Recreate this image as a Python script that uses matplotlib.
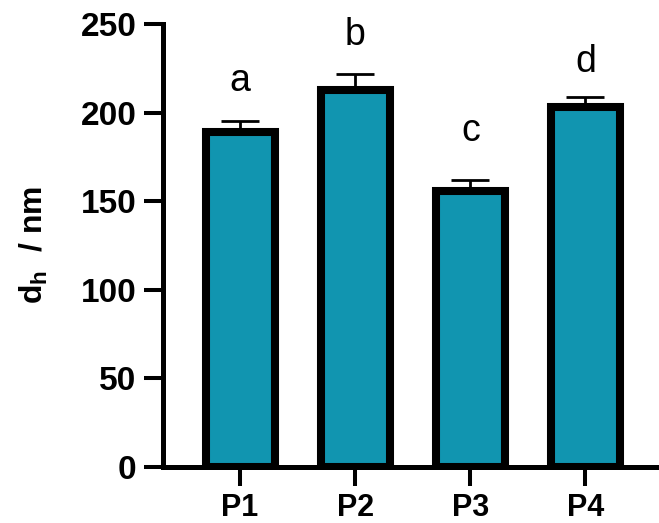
import matplotlib.pyplot as plt
import numpy as np

plt.rcParams['font.family'] = ['Liberation Sans', 'DejaVu Sans']
plt.rcParams['mathtext.fontset'] = 'custom'
plt.rcParams['mathtext.bf'] = 'Liberation Sans:bold'
plt.rcParams['mathtext.rm'] = 'Liberation Sans'

samples = ['P1', 'P2', 'P3', 'P4']
dh_mean = [189, 213, 156, 203]
dh_err = [6, 9, 6, 6]
letters = ['a', 'b', 'c', 'd']
letter_y = [212, 238, 184, 223]

x = np.arange(len(samples))

fig = plt.figure(figsize=(6.59, 5.23), dpi=100)
ax = fig.add_axes([0.2473, 0.1071, 0.7527, 0.847])

# error bars only upward, drawn behind bars
ax.errorbar(x, dh_mean, yerr=[np.zeros(len(x)), dh_err], fmt='none',
            ecolor='black', elinewidth=2, capsize=13.5, capthick=2, zorder=1)
ax.bar(x, dh_mean, width=0.6, color='#1195b0', edgecolor='black',
       linewidth=5.8, zorder=2)

for xi, lab, yl in zip(x, letters, letter_y):
    ax.text(xi, yl, lab, ha='center', va='baseline', fontsize=27)

ax.set_xlim(-0.67, 3.64)
ax.set_ylim(0, 250)
ax.set_yticks([0, 50, 100, 150, 200, 250])
ax.set_xticks(x)
ax.set_xticklabels(samples)

for side in ['top', 'right']:
    ax.spines[side].set_visible(False)
for side in ['left', 'bottom']:
    ax.spines[side].set_linewidth(3.6)

ax.tick_params(axis='both', width=2.9, length=14)
ax.tick_params(axis='y', labelsize=24, pad=5)
ax.tick_params(axis='x', labelsize=22, pad=5)
for t in ax.get_xticklabels() + ax.get_yticklabels():
    t.set_fontweight('bold')

ax.set_ylabel(r'$\mathbf{d}_\mathbf{h}$  / nm', fontsize=23, fontweight='bold')
ax.yaxis.set_label_coords(-0.228, 0.5)

fig.savefig('out.png', dpi=100)
